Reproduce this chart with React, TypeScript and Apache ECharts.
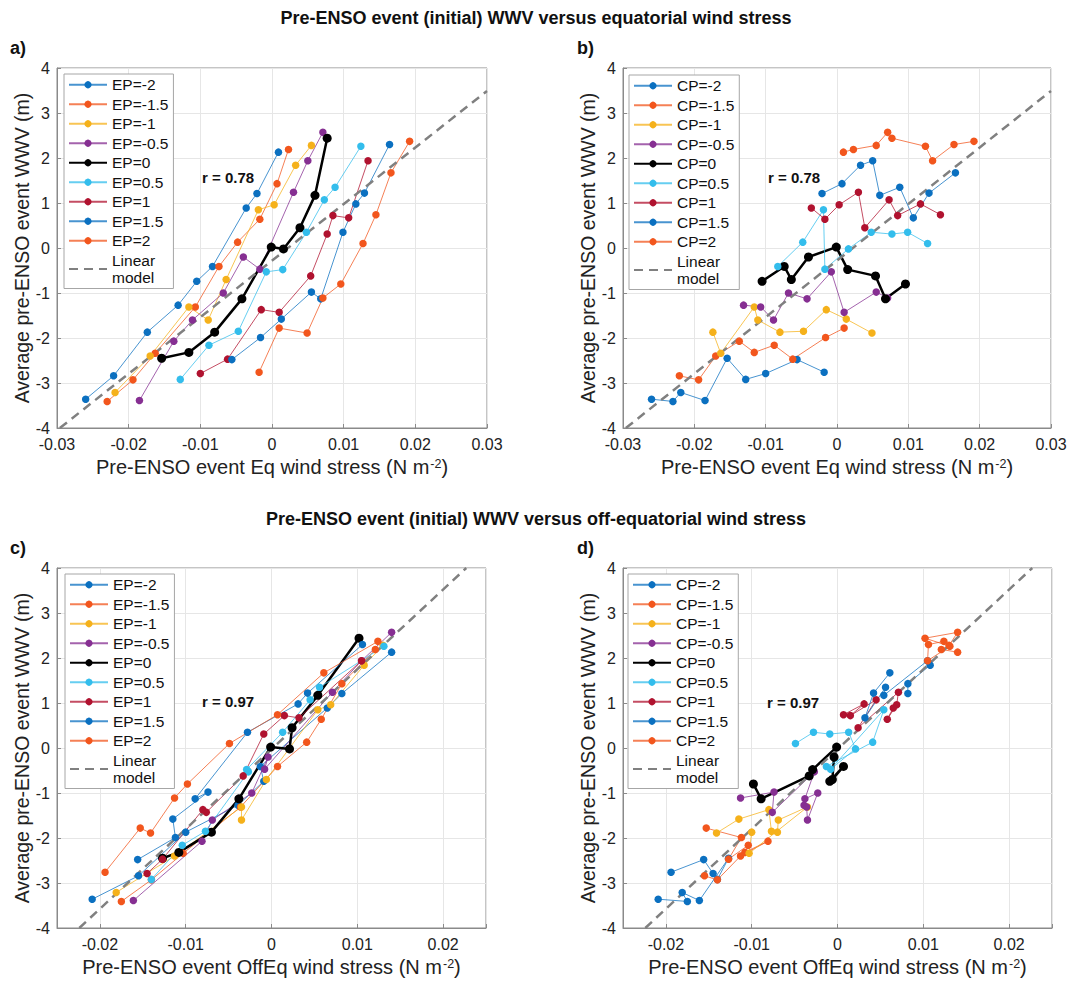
import React, { useEffect, useRef } from 'react';
import * as echarts from 'echarts';

// Levels of the EP / CP forcing
const levels = ['-2', '-1.5', '-1', '-0.5', '0', '0.5', '1', '1.5', '2'];

// Average pre-ENSO WWV (m); rows = EP level, columns = CP level
const wwv = [
  [-3.36, -2.84, -1.87, -1.27, -0.74, -0.41, 0.89, 1.21, 2.13],
  [-3.41, -2.93, -2.34, -1.31, -0.41, 0.13, 0.64, 1.43, 2.19],
  [-3.21, -2.40, -1.31, -1.60, -0.70, 0.85, 0.96, 1.84, 2.28],
  [-3.39, -2.07, -1.60, -1.00, -0.20, -0.47, 1.24, 1.94, 2.57],
  [-2.45, -2.32, -1.87, -1.13, 0.02, -0.02, 0.45, 1.17, 2.44],
  [-2.92, -2.16, -1.85, -0.53, -0.48, 0.35, 1.07, 1.35, 2.26],
  [-2.79, -2.47, -1.37, -1.43, -0.62, 0.31, 0.72, 0.67, 1.94],
  [-2.48, -1.99, -1.58, -0.98, -1.13, 0.35, 0.98, 1.22, 2.30],
  [-2.76, -1.78, -1.89, -1.11, -0.80, 0.10, 0.74, 1.67, 2.37],
];

// Pre-ENSO equatorial wind stress (N m-2); rows = EP, columns = CP
const tauEq = [
  [-0.0260, -0.0221, -0.0174, -0.0131, -0.0105, -0.0083, -0.0036, -0.0021, 0.0009],
  [-0.0230, -0.0194, -0.0163, -0.0107, -0.0074, -0.0048, -0.0017, 0.0007, 0.0023],
  [-0.0219, -0.0170, -0.0116, -0.0089, -0.0064, -0.0019, 0.0003, 0.0033, 0.0055],
  [-0.0185, -0.0137, -0.0111, -0.0068, -0.0040, -0.0017, 0.0030, 0.0050, 0.0071],
  [-0.0154, -0.0116, -0.0080, -0.0042, -0.0001, 0.0016, 0.0039, 0.0060, 0.0077],
  [-0.0128, -0.0088, -0.0047, -0.0008, 0.0015, 0.0048, 0.0073, 0.0088, 0.0124],
  [-0.0100, -0.0062, -0.0015, 0.0010, 0.0054, 0.0077, 0.0085, 0.0107, 0.0134],
  [-0.0056, -0.0016, 0.0013, 0.0055, 0.0068, 0.0099, 0.0117, 0.0129, 0.0164],
  [-0.0018, 0.0010, 0.0049, 0.0071, 0.0096, 0.0127, 0.0145, 0.0166, 0.0192],
];

// Pre-ENSO off-equatorial wind stress (N m-2); rows = EP, columns = CP
const tauOff = [
  [-0.0209, -0.0155, -0.0100, -0.0039, -0.0009, -0.0013, 0.0065, 0.0082, 0.0140],
  [-0.0175, -0.0140, -0.0103, -0.0036, 0.0007, 0.0041, 0.0058, 0.0082, 0.0121],
  [-0.0181, -0.0113, -0.0035, -0.0035, -0.0006, 0.0054, 0.0069, 0.0108, 0.0130],
  [-0.0161, -0.0081, -0.0069, -0.0023, -0.0004, -0.0008, 0.0071, 0.0105, 0.0140],
  [-0.0127, -0.0108, -0.0070, -0.0038, -0.0001, 0.0021, 0.0024, 0.0054, 0.0102],
  [-0.0140, -0.0104, -0.0077, -0.0027, -0.0029, 0.0013, 0.0045, 0.0056, 0.0131],
  [-0.0145, -0.0127, -0.0080, -0.0076, -0.0033, -0.0009, 0.0015, 0.0032, 0.0105],
  [-0.0156, -0.0112, -0.0115, -0.0074, -0.0089, -0.0028, 0.0031, 0.0042, 0.0106],
  [-0.0194, -0.0153, -0.0141, -0.0113, -0.0098, -0.0049, 0.0007, 0.0061, 0.0124],
];

// Linear model end points
const linearEq = [[-0.0296, -4], [0.03, 3.49]];
const linearOff = [[-0.0224, -4], [0.0227, 4]];

const rEq = 'r = 0.78';
const rOff = 'r = 0.97';

const titleEq = 'Pre-ENSO event (initial) WWV versus equatorial wind stress';
const titleOff = 'Pre-ENSO event (initial) WWV versus off-equatorial wind stress';
const xNameEq = 'Pre-ENSO event Eq wind stress (N m{sup|-2})';
const xNameOff = 'Pre-ENSO event OffEq wind stress (N m{sup|-2})';
const yName = 'Average pre-ENSO event WWV (m)';

const colors = ['#0b70c0', '#f2561d', '#f5b11b', '#862f92', '#000000', '#33bdec', '#b0122f', '#0b70c0', '#f2561d'];

const FONT = '"Liberation Sans", Arial, Helvetica, sans-serif';
const AXIS = '#8a8a8a';

const grids = [
  { left: 57, top: 68, width: 430, height: 360 },
  { left: 623, top: 68, width: 428, height: 360 },
  { left: 57, top: 568, width: 429, height: 360 },
  { left: 623, top: 568, width: 429, height: 360 },
];
const legendPos = [
  { left: 64, top: 74 },
  { left: 629, top: 75 },
  { left: 65, top: 574 },
  { left: 628, top: 574 },
];

function fmt(v: number) {
  const k = v * 100;
  if (Math.abs(k - Math.round(k)) > 1e-6) return '';
  return String(Math.round(k) / 100);
}

function buildOption() {
  const series: any[] = [];
  const legends: any[] = [];
  const xAxes: any[] = [];
  const yAxes: any[] = [];
  for (let p = 0; p < 4; p++) {
    const byEP = p === 0 || p === 2;
    const tau = p < 2 ? tauEq : tauOff;
    const prefix = byEP ? 'EP=' : 'CP=';
    const names: any[] = [];
    for (let k = 0; k < 9; k++) {
      const data: number[][] = [];
      for (let m = 0; m < 9; m++) {
        const i = byEP ? k : m;
        const j = byEP ? m : k;
        data.push([tau[i][j], wwv[i][j]]);
      }
      const black = k === 4;
      const name = prefix + levels[k];
      names.push(name);
      series.push({
        type: 'line',
        name,
        xAxisIndex: p,
        yAxisIndex: p,
        data,
        symbol: 'circle',
        symbolSize: black ? 9 : 7.5,
        showSymbol: true,
        lineStyle: { color: colors[k], width: black ? 2.5 : 1, opacity: black ? 1 : 0.75 },
        itemStyle: { color: colors[k] },
        emphasis: { disabled: true },
        silent: true,
      });
    }
    series.push({
      type: 'line',
      name: 'Linear model',
      xAxisIndex: p,
      yAxisIndex: p,
      data: p < 2 ? linearEq : linearOff,
      symbol: 'none',
      lineStyle: { color: '#808080', width: 2.5, type: [9, 6] },
      itemStyle: { color: '#808080', opacity: 0 },
      emphasis: { disabled: true },
      silent: true,
    });
    names.push({ name: 'Linear model', itemStyle: { opacity: 0 } });
    legends.push({
      ...legendPos[p],
      orient: 'vertical',
      data: names,
      itemWidth: 38,
      itemHeight: 9,
      itemGap: 2,
      padding: [2, 5, 2, 4],
      borderColor: '#a6a6a6',
      borderWidth: 1,
      borderRadius: 0,
      backgroundColor: '#ffffff',
      selectedMode: false,
      textStyle: { fontSize: 15.5, fontFamily: FONT, color: '#111', lineHeight: 17.5 },
      formatter: (n: string) => (n === 'Linear model' ? 'Linear\nmodel' : n),
    });
    const isEq = p < 2;
    xAxes.push({
      gridIndex: p,
      type: 'value',
      min: isEq ? -0.03 : -0.025,
      max: isEq ? 0.03 : 0.025,
      ...(isEq ? { interval: 0.01 } : { splitNumber: 5 }),
      axisLine: { show: true, onZero: false, lineStyle: { color: AXIS, width: 1 } },
      axisTick: { show: true, inside: true, length: 4, lineStyle: { color: AXIS } },
      axisLabel: { color: '#222', fontSize: 16, fontFamily: FONT, margin: 8, formatter: fmt },
      splitLine: { show: true, lineStyle: { color: '#e6e6e6', width: 1 } },
      name: isEq ? xNameEq : xNameOff,
      nameLocation: 'middle',
      nameGap: 29,
      nameTextStyle: {
        fontSize: 20,
        fontFamily: FONT,
        color: '#222',
        rich: { sup: { fontSize: 12.5, fontFamily: FONT, color: '#222', verticalAlign: 'top', padding: [0, 0, 7, 1] } },
      },
    });
    yAxes.push({
      gridIndex: p,
      type: 'value',
      min: -4,
      max: 4,
      interval: 1,
      axisLine: { show: true, onZero: false, lineStyle: { color: AXIS, width: 1 } },
      axisTick: { show: true, inside: true, length: 4, lineStyle: { color: AXIS } },
      axisLabel: { color: '#222', fontSize: 16, fontFamily: FONT, margin: 7 },
      splitLine: { show: true, lineStyle: { color: '#e6e6e6', width: 1 } },
      name: yName,
      nameLocation: 'middle',
      nameGap: 25,
      nameTextStyle: { fontSize: 19.5, fontFamily: FONT, color: '#222' },
    });
  }

  const txt = (text: string, x: number, y: number, size: number, align = 'left') => ({
    type: 'text',
    x,
    y,
    silent: true,
    z: 100,
    style: {
      text,
      fontSize: size,
      fontWeight: 'bold',
      fontFamily: FONT,
      fill: '#111',
      align,
      verticalAlign: 'middle',
    },
  });

  return {
    animation: false,
    backgroundColor: '#ffffff',
    grid: grids.map((g) => ({ ...g, show: true, borderColor: AXIS, borderWidth: 1, backgroundColor: 'transparent' })),
    xAxis: xAxes,
    yAxis: yAxes,
    legend: legends,
    series,
    graphic: [
      txt(titleEq, 536, 18, 18, 'center'),
      txt(titleOff, 536, 519, 18, 'center'),
      txt('a)', 10, 48, 18),
      txt('b)', 577, 48, 18),
      txt('c)', 10, 548, 18),
      txt('d)', 577, 548, 18),
      txt(rEq, 202, 177, 15),
      txt(rEq, 768, 177, 15),
      txt(rOff, 202, 701, 15),
      txt(rOff, 767, 702, 15),
    ],
  };
}

export default function App() {
  const ref = useRef<HTMLDivElement>(null);
  useEffect(() => {
    document.body.style.margin = '0';
    const chart = echarts.init(ref.current!, undefined, { renderer: 'svg' });
    chart.setOption(buildOption() as any);
    return () => chart.dispose();
  }, []);
  return <div ref={ref} style={{ width: 1071, height: 988, background: '#fff' }} />;
}
